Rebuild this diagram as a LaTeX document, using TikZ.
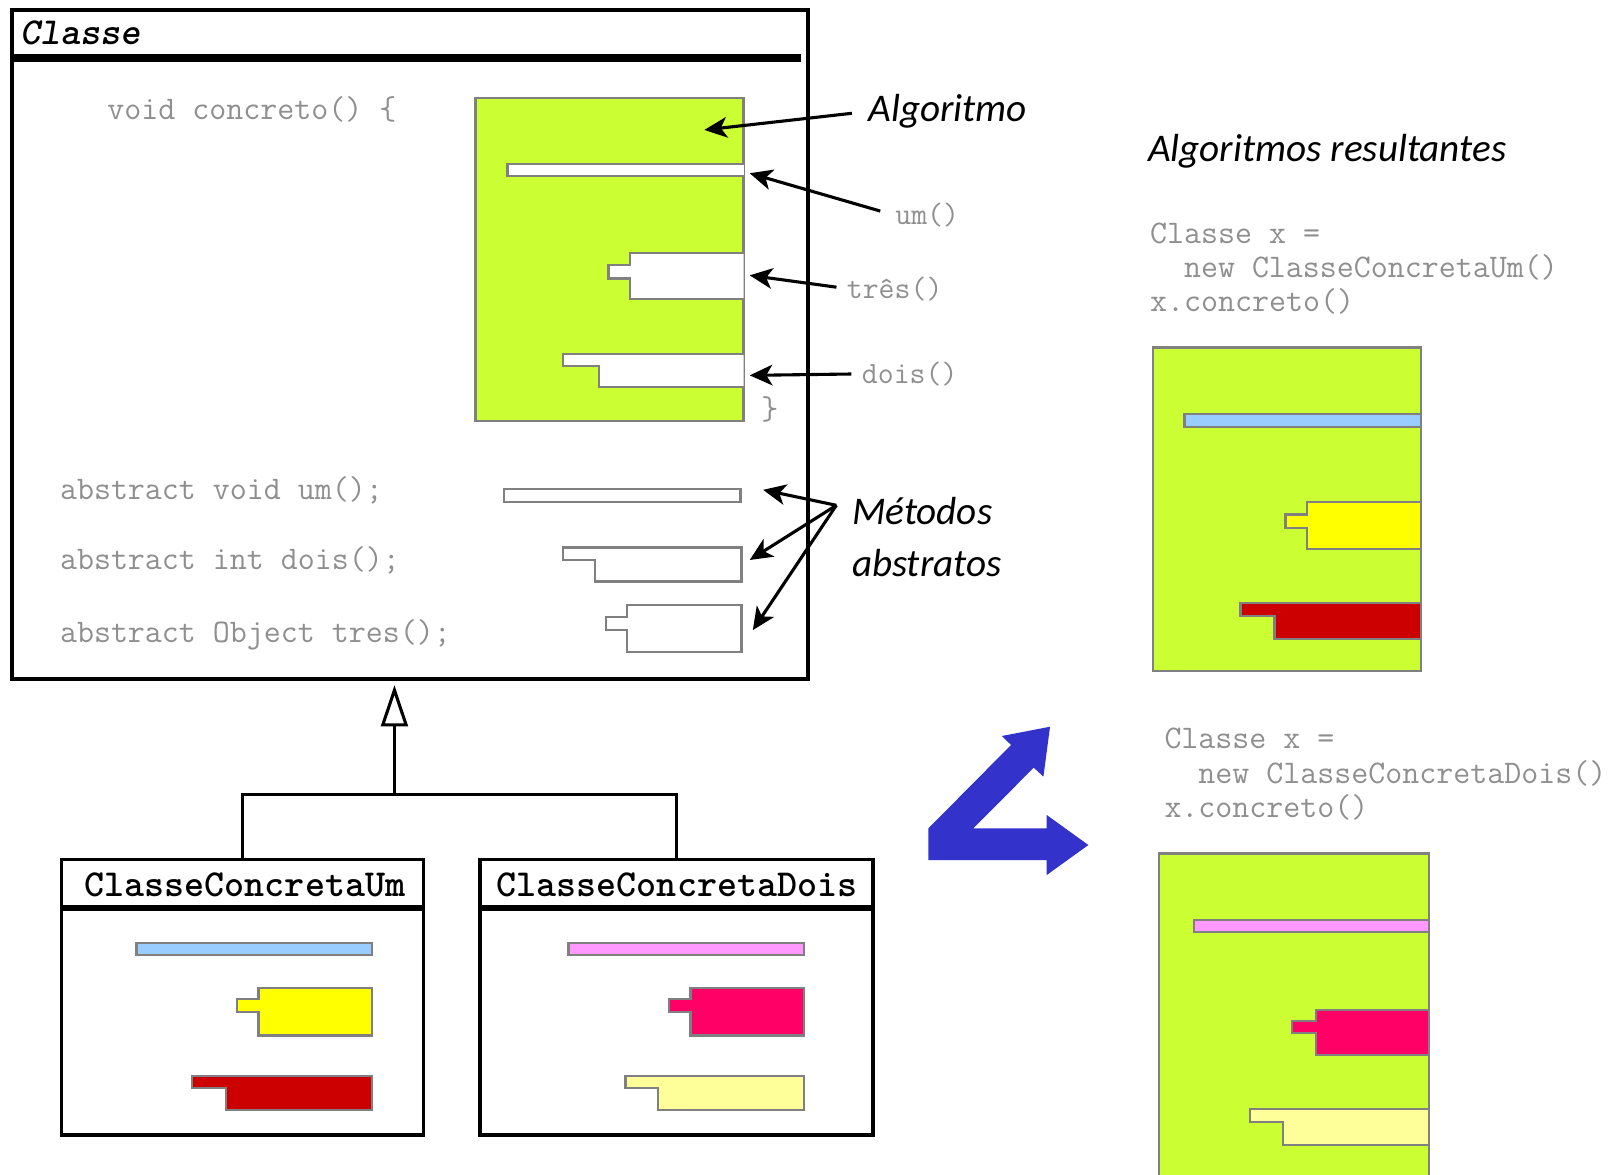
\documentclass[tikz,border=0pt]{standalone}
\usepackage{fontspec}
\usepackage{tikz}
\usetikzlibrary{arrows.meta}
\newfontfamily\gillfont{Carlito}
\definecolor{limegreen}{HTML}{CCFF33}
\definecolor{slotgray}{HTML}{808080}
\definecolor{codegray}{HTML}{8F8F8F}
\definecolor{barblue}{HTML}{99CCFF}
\definecolor{barpink}{HTML}{FF99FF}
\definecolor{tabyellow}{HTML}{FFFF00}
\definecolor{tabcrimson}{HTML}{FF0066}
\definecolor{stepred}{HTML}{CC0000}
\definecolor{steplight}{HTML}{FFFF99}
\definecolor{swapblue}{HTML}{3333CC}
\begin{document}
\begin{tikzpicture}[x=1pt,y=-1pt,
	classbox/.style={draw,line width=3.5pt,rectangle,inner sep=0pt},
	slot/.style={draw=slotgray,line width=2.2pt},
	code/.style={text=codegray,font=\fontsize{32}{36}\selectfont\ttfamily,inner sep=0pt,anchor=base west},
	codelbl/.style={text=codegray,font=\fontsize{30}{34}\selectfont\ttfamily,inner sep=0pt,anchor=base west},
	note/.style={font=\fontsize{38}{46}\selectfont\gillfont\itshape,inner sep=0pt,anchor=base west},
	title/.style={font=\fontsize{37}{40}\selectfont\ttfamily\bfseries,inner sep=0pt,anchor=base},
	ptr/.style={line width=3pt,-{Stealth[length=22pt,width=20pt,inset=6pt]}},
	inherit/.style={line width=3pt,line join=miter}]
		\clip (0,0) rectangle (1568,1139);
		\node[classbox,minimum width=772pt,minimum height=649pt] (classe) at (397.4,334.2) {};
		\node[title,anchor=base west,font=\fontsize{37}{40}\selectfont\ttfamily\bfseries\itshape] (classetit) at (20,43) {Classe};
		\draw[line width=8pt] (11.2,56) -- (777,56);
		\filldraw[slot,fill=limegreen] (461,95) rectangle (721,408);
		\filldraw[slot,fill=white] (721,159) -- (492,159) -- (492,171) -- (721,171);
		\filldraw[slot,fill=white] (721,245) -- (611,245) -- (611,257) -- (590,257) -- (590,270) -- (611,270) -- (611,290) -- (721,290);
		\filldraw[slot,fill=white] (721,343) -- (546,343) -- (546,355) -- (581,355) -- (581,375) -- (721,375);
		\node[code] (concreto) at (104,116) {void concreto() \{};
		\node[code] (fecha) at (738,407) {\}};
		\node[code] (absum) at (58,484) {abstract void um();};
		\node[code] (absdois) at (58,552) {abstract int dois();};
		\node[code] (abstres) at (58,623) {abstract Object tres();};
		\filldraw[slot,fill=white] (489,474.5) rectangle (718,487);
		\filldraw[slot,fill=white] (719,531) -- (546,531) -- (546,543) -- (577,543) -- (577,564) -- (719,564) -- cycle;
		\filldraw[slot,fill=white] (719,587) -- (608,587) -- (608,598) -- (587.5,598) -- (587.5,611) -- (608,611) -- (608,632) -- (719,632) -- cycle;
		\node[note] (algo) at (842,118) {Algoritmo};
		\node[codelbl] (um) at (868,218) {um()};
		\node[codelbl] (tres) at (821,289) {três()};
		\node[codelbl] (dois) at (835.6,371.7) {dois()};
		\coordinate (algoIn) at (683,126);
		\coordinate (umIn) at (727,168);
		\coordinate (tresIn) at (727,267);
		\coordinate (doisIn) at (727,364);
		\draw[ptr,shorten <=16pt] (algo.west) -- (algoIn);
		\draw[ptr,shorten <=15pt] (um.west) -- (umIn);
		\draw[ptr,shorten <=10pt] (tres.west) -- (tresIn);
		\draw[ptr,shorten <=10pt] (dois.west) -- (doisIn);
		\node[note] (met1) at (826,509) {Métodos};
		\node[note] (met2) at (826,559) {abstratos};
		\coordinate (mfork) at (811,490);
		\coordinate (absumIn) at (740,475);
		\coordinate (absdoisIn) at (727,543);
		\coordinate (abstresIn) at (730,611);
		\draw[ptr] (mfork) -- (absumIn);
		\draw[ptr] (mfork) -- (absdoisIn);
		\draw[ptr] (mfork) -- (abstresIn);
		\node[classbox,minimum width=351pt,minimum height=267pt] (cum) at (235.3,967) {};
		\node[classbox,minimum width=381pt,minimum height=267pt] (cdois) at (656,967) {};
		\node[title] (cumtit) at (237.5,869.5) {ClasseConcretaUm};
		\node[title] (cdoistit) at (656.5,869.5) {ClasseConcretaDois};
		\draw[line width=6pt] (cum.west |- 0,880.5) -- (cum.east |- 0,880.5);
		\draw[line width=6pt] (cdois.west |- 0,880.5) -- (cdois.east |- 0,880.5);
		\coordinate (fork) at (382.5,770);
		\draw[inherit] (cum.north) -- (cum.north |- fork) -- (cdois.north |- fork) -- (cdois.north);
		\draw[inherit,-{Triangle[open,length=40pt,width=26pt]},shorten >=4pt] (fork) -- (fork |- classe.south);
		\filldraw[slot,fill=barblue] (132.4,914.2) rectangle (360.7,926);
		\filldraw[slot,fill=tabyellow] (360.7,958) -- (250.6,958) -- (250.6,969) -- (229.6,969) -- (229.6,981) -- (250.6,981) -- (250.6,1004) -- (360.7,1004) -- cycle;
		\filldraw[slot,fill=stepred] (360.7,1043.5) -- (186,1043.5) -- (186,1055) -- (219,1055) -- (219,1076) -- (360.7,1076) -- cycle;
		\filldraw[slot,fill=barpink] (551.3,914.2) rectangle (779.9,926);
		\filldraw[slot,fill=tabcrimson] (779.9,958) -- (669.5,958) -- (669.5,969) -- (648.5,969) -- (648.5,981) -- (669.5,981) -- (669.5,1004) -- (779.9,1004) -- cycle;
		\filldraw[slot,fill=steplight] (779.9,1043.5) -- (606.5,1043.5) -- (606.5,1055) -- (638,1055) -- (638,1076) -- (779.9,1076) -- cycle;
		\node[note] (resultantes) at (1113,157) {Algoritmos resultantes};
		\node[code] (xum1) at (1115,236) {Classe x =};
		\node[code] (xum2) at (1115,269) {\phantom{xx}new ClasseConcretaUm()};
		\node[code] (xum3) at (1115,302) {x.concreto()};
		\filldraw[slot,fill=limegreen] (1118,337) rectangle (1378,651);
		\filldraw[slot,fill=barblue] (1148.5,401.5) rectangle (1378,414);
		\filldraw[slot,fill=tabyellow] (1378,487) -- (1267.3,487) -- (1267.3,498.8) -- (1246.4,498.8) -- (1246.4,512) -- (1267.3,512) -- (1267.3,532.5) -- (1378,532.5) -- cycle;
		\filldraw[slot,fill=stepred] (1378,585) -- (1203,585) -- (1203,597.3) -- (1235.8,597.3) -- (1235.8,619.5) -- (1378,619.5) -- cycle;
		\fill[swapblue] (900.3,834) -- (1015,834) -- (1015,848.5) -- (1055.4,819.4) -- (1015,790.3) -- (1015,803.2) -- (943.9,803.2) -- (1002.4,744.4) -- (1011.8,753.1) -- (1018.2,704.7) -- (971.4,713.7) -- (980.4,722.4) -- (900.3,803.2) -- cycle;
		\node[code] (xdois1) at (1129,725.7) {Classe x =};
		\node[code] (xdois2) at (1129,759.6) {\phantom{xx}new ClasseConcretaDois()};
		\node[code] (xdois3) at (1129,792.6) {x.concreto()};
		\filldraw[slot,fill=limegreen] (1124,827.5) rectangle (1386,1160);
		\filldraw[slot,fill=barpink] (1158,892) rectangle (1386,904);
		\filldraw[slot,fill=tabcrimson] (1386,979.5) -- (1276,979.5) -- (1276,990) -- (1253,990) -- (1253,1002) -- (1276,1002) -- (1276,1023) -- (1386,1023) -- cycle;
		\filldraw[slot,fill=steplight] (1386,1075.4) -- (1212,1075.4) -- (1212,1087.7) -- (1244,1087.7) -- (1244,1110.4) -- (1386,1110.4) -- cycle;
\end{tikzpicture}
\end{document}
